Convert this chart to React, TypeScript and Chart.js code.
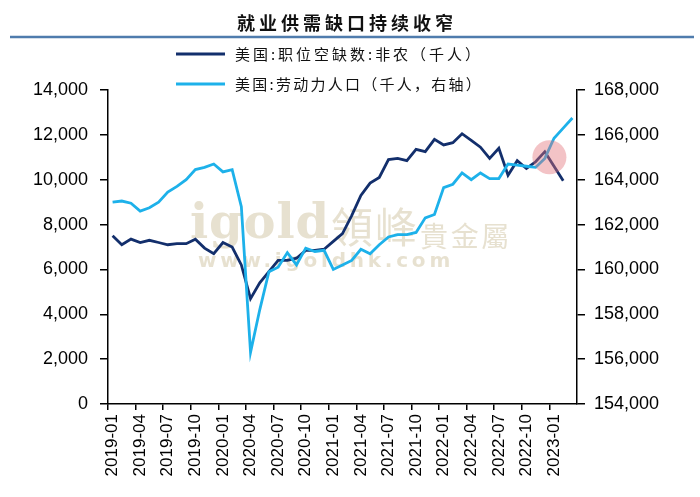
import React, { useEffect, useRef } from "react";
import { Chart, registerables } from "chart.js";

Chart.register(...registerables);

const months = [
  "2019-01", "2019-02", "2019-03", "2019-04", "2019-05", "2019-06", "2019-07", "2019-08", "2019-09", "2019-10", "2019-11", "2019-12",
  "2020-01", "2020-02", "2020-03", "2020-04", "2020-05", "2020-06", "2020-07", "2020-08", "2020-09", "2020-10", "2020-11", "2020-12",
  "2021-01", "2021-02", "2021-03", "2021-04", "2021-05", "2021-06", "2021-07", "2021-08", "2021-09", "2021-10", "2021-11", "2021-12",
  "2022-01", "2022-02", "2022-03", "2022-04", "2022-05", "2022-06", "2022-07", "2022-08", "2022-09", "2022-10", "2022-11", "2022-12",
  "2023-01", "2023-02", "2023-03",
];

// 美国:职位空缺数:非农（千人） — left axis
const jobOpenings: (number | null)[] = [
  7500, 7100, 7350, 7200, 7300, 7200, 7100, 7150, 7150, 7350, 6950, 6700,
  7200, 7000, 6200, 4700, 5400, 5900, 6400, 6400, 6500, 6850, 6850, 6900,
  7250, 7600, 8400, 9300, 9850, 10100, 10900, 10950, 10850, 11350, 11250, 11800,
  11550, 11650, 12050, 11750, 11450, 10950, 11400, 10200, 10850, 10500, 10800, 11250,
  10600, 9950, null,
];

// 美国:劳动力人口（千人，右轴） — right axis
const laborForce: number[] = [
  163000, 163050, 162950, 162600, 162750, 163000, 163450, 163700, 164000, 164450, 164550, 164700,
  164350, 164450, 162800, 156300, 158200, 159900, 160100, 160750, 160200, 160950, 160800, 160850,
  160000, 160200, 160400, 160900, 160700, 161100, 161450, 161550, 161550, 161650, 162300, 162450,
  163650, 163800, 164300, 164000, 164300, 164050, 164050, 164700, 164650, 164600, 164550, 164950,
  165850, 166300, 166750,
];

const leftAxis = { min: 0, max: 14000, step: 2000 };
const rightAxis = { min: 154000, max: 168000, step: 2000 };

const titleText = "就业供需缺口持续收窄";
const seriesLabels = ["美国:职位空缺数:非农（千人）", "美国:劳动力人口（千人，右轴）"];
const seriesColors = ["#132f6c", "#1db1ea"];

// highlighted spot (category index, left-axis value)
const highlightIndex = 47.5;
const highlightValue = 11000;

const tickFont = '"Liberation Sans", Arial, sans-serif';
const cjkFont = '"Noto Sans CJK SC", sans-serif';

function drawFitted(
  ctx: CanvasRenderingContext2D,
  text: string,
  x: number,
  y: number,
  width: number,
  align: "left" | "center"
) {
  (ctx as any).letterSpacing = "0px";
  const w0 = ctx.measureText(text).width;
  const n = Array.from(text).length;
  const sp = (width - w0) / n;
  (ctx as any).letterSpacing = sp + "px";
  ctx.textAlign = "left";
  const sx = align === "center" ? x - width / 2 : x;
  ctx.fillText(text, sx, y);
  (ctx as any).letterSpacing = "0px";
}

const decorPlugin = {
  id: "decor",
  beforeDatasetsDraw(chart: any) {
    const ctx: CanvasRenderingContext2D = chart.ctx;
    ctx.save();
    ctx.fillStyle = "rgba(212,200,170,0.55)";
    ctx.textBaseline = "alphabetic";
    ctx.font = 'bold 48px "DejaVu Serif", serif';
    drawFitted(ctx, "igold", 190, 238, 140, "left");
    ctx.textBaseline = "middle";
    ctx.font = '42px "Noto Sans CJK TC", sans-serif';
    drawFitted(ctx, "領峰", 331, 227, 88, "left");
    ctx.font = '28px "Noto Sans CJK TC", sans-serif';
    drawFitted(ctx, "貴金屬", 420, 236, 92, "left");
    ctx.font = 'bold 20px "DejaVu Sans", sans-serif';
    drawFitted(ctx, "www.igoldhk.com", 198, 262, 256, "left");
    ctx.restore();
  },
  afterDatasetsDraw(chart: any) {
    const ctx: CanvasRenderingContext2D = chart.ctx;
    const cx = chart.scales.x.getPixelForValue(highlightIndex);
    const cy = chart.scales.y.getPixelForValue(highlightValue);
    ctx.save();
    ctx.fillStyle = "rgba(226,112,120,0.42)";
    ctx.beginPath();
    ctx.arc(cx, cy, 17, 0, Math.PI * 2);
    ctx.fill();
    ctx.restore();
  },
  afterDraw(chart: any) {
    const ctx: CanvasRenderingContext2D = chart.ctx;
    ctx.save();
    // title
    ctx.fillStyle = "#111";
    ctx.textBaseline = "middle";
    ctx.font = "bold 18px " + cjkFont;
    drawFitted(ctx, titleText, 347, 23, 220, "center");
    // rule under title
    ctx.strokeStyle = "#4f7cad";
    ctx.lineWidth = 2.5;
    ctx.beginPath();
    ctx.moveTo(10, 37);
    ctx.lineTo(694, 37);
    ctx.stroke();
    // legend
    const ys = [54, 84];
    chart.data.datasets.forEach((ds: any, i: number) => {
      ctx.strokeStyle = ds.borderColor;
      ctx.lineWidth = 3;
      ctx.beginPath();
      ctx.moveTo(176, ys[i]);
      ctx.lineTo(225, ys[i]);
      ctx.stroke();
      ctx.fillStyle = "#111";
      ctx.font = "15px " + cjkFont;
      drawFitted(ctx, ds.label, 235, ys[i], 248, "left");
    });
    ctx.restore();
  },
};

export default function App() {
  const canvasRef = useRef<HTMLCanvasElement | null>(null);

  useEffect(() => {
    document.body.style.margin = "0";
    const canvas = canvasRef.current;
    if (!canvas) return;
    const chart = new Chart(canvas, {
      type: "line",
      data: {
        labels: months,
        datasets: [
          {
            label: seriesLabels[0],
            data: jobOpenings,
            borderColor: seriesColors[0],
            backgroundColor: seriesColors[0],
            borderWidth: 2.8,
            pointRadius: 0,
            tension: 0,
            yAxisID: "y",
            order: 1,
          },
          {
            label: seriesLabels[1],
            data: laborForce,
            borderColor: seriesColors[1],
            backgroundColor: seriesColors[1],
            borderWidth: 2.8,
            pointRadius: 0,
            tension: 0,
            yAxisID: "y1",
            order: 0,
          },
        ],
      },
      options: {
        responsive: false,
        animation: false,
        devicePixelRatio: 1,
        layout: { padding: { top: 90, left: 0, right: 0, bottom: 0 } },
        plugins: {
          legend: { display: false },
          title: { display: false },
          tooltip: { enabled: false },
        },
        scales: {
          x: {
            type: "category",
            offset: true,
            grid: {
              offset: true,
              drawOnChartArea: false,
              drawTicks: true,
              tickLength: 6,
              lineWidth: 1.5,
              color: (c: any) => (c.index % 3 === 0 ? "#000" : "rgba(0,0,0,0)"),
            },
            border: { display: true, color: "#000", width: 1.5 },
            ticks: {
              autoSkip: false,
              maxRotation: 90,
              minRotation: 90,
              padding: 4,
              color: "#000",
              font: { size: 17, family: tickFont },
              callback: function (this: any, val: any, idx: number) {
                return idx % 3 === 0 ? months[idx] : "";
              },
            },
            afterFit: (s: any) => {
              s.height = 93;
            },
          },
          y: {
            position: "left",
            min: leftAxis.min,
            max: leftAxis.max,
            grid: {
              drawOnChartArea: false,
              drawTicks: true,
              tickLength: 8,
              lineWidth: 1.5,
              color: "#000",
            },
            border: { display: true, color: "#000", width: 1.5 },
            ticks: {
              stepSize: leftAxis.step,
              padding: 12,
              color: "#000",
              font: { size: 18, family: tickFont },
              callback: (v: any) => Number(v).toLocaleString("en-US"),
            },
            afterFit: (s: any) => {
              s.width = 108;
            },
          },
          y1: {
            position: "right",
            min: rightAxis.min,
            max: rightAxis.max,
            grid: {
              drawOnChartArea: false,
              drawTicks: true,
              tickLength: 8,
              lineWidth: 1.5,
              color: "#000",
            },
            border: { display: true, color: "#000", width: 1.5 },
            ticks: {
              stepSize: rightAxis.step,
              padding: 9,
              color: "#000",
              font: { size: 18, family: tickFont },
              callback: (v: any) => Number(v).toLocaleString("en-US"),
            },
            afterFit: (s: any) => {
              s.width = 123;
            },
          },
        },
      },
      plugins: [decorPlugin],
    });
    return () => {
      chart.destroy();
    };
  }, []);

  return (
    <div style={{ width: 700, height: 497, background: "#fff" }}>
      <canvas ref={canvasRef} width={700} height={497} style={{ display: "block", width: 700, height: 497 }} />
    </div>
  );
}
